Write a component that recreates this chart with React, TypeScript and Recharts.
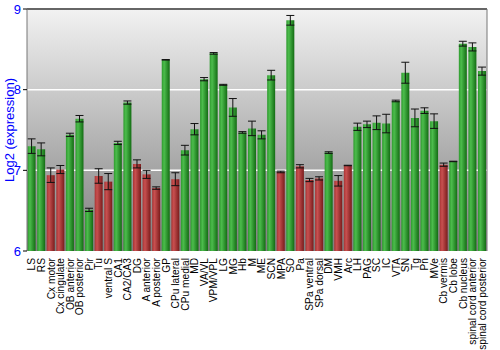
// @ts-nocheck
import { BarChart, Bar, XAxis, YAxis, ErrorBar, Cell, ReferenceLine, ReferenceArea } from 'recharts';

const regions = [
  'LS', 'RS', 'Cx motor', 'Cx cingulate', 'OB anterior', 'OB posterior', 'Pir', 'Tu', 'ventral S', 'CA1',
  'CA2/CA3', 'DG', 'A anterior', 'A posterior', 'GP', 'CPu lateral', 'CPu medial', 'MD', 'VA/VL', 'VPM/VPL',
  'LG', 'MG', 'Hb', 'M', 'ME', 'SCN', 'MPA', 'SO', 'Pa', 'SPa ventral',
  'SPa dorsal', 'DM', 'VMH', 'Arc', 'LH', 'PAG', 'SC', 'IC', 'VTA', 'SN',
  'Tg', 'Pn', 'MVe', 'Cb vermis', 'Cb lobe', 'Cb nucleus', 'spinal cord anterior', 'spinal cord posterior',
];

const expression = [
  7.30, 7.26, 6.94, 7.01, 7.44, 7.64, 6.51, 6.93, 6.86, 7.34,
  7.84, 7.08, 6.95, 6.78, 8.37, 6.89, 7.25, 7.51, 8.13, 8.45,
  8.06, 7.78, 7.47, 7.52, 7.44, 8.18, 6.98, 8.86, 7.05, 6.88,
  6.90, 7.22, 6.87, 7.06, 7.54, 7.57, 7.59, 7.58, 7.86, 8.21,
  7.65, 7.74, 7.61, 7.07, 7.11, 8.57, 8.53, 8.23,
];

const stdErr = [
  0.09, 0.08, 0.09, 0.05, 0.02, 0.04, 0.02, 0.09, 0.10, 0.02,
  0.02, 0.05, 0.05, 0.015, 0.003, 0.08, 0.06, 0.07, 0.02, 0.01,
  0.006, 0.11, 0.01, 0.09, 0.05, 0.06, 0.01, 0.06, 0.02, 0.02,
  0.02, 0.01, 0.065, 0.003, 0.045, 0.04, 0.085, 0.115, 0.01, 0.13,
  0.11, 0.035, 0.09, 0.02, 0.003, 0.03, 0.05, 0.05,
];

// true = red bar
const lowFlag = [
  false, false, true, true, false, false, false, true, true, false,
  false, true, true, true, false, true, false, false, false, false,
  false, false, false, false, false, false, true, false, true, true,
  true, false, true, true, false, false, false, false, false, false,
  false, false, false, true, false, false, false, false,
];

const yTicks = [6, 7, 8, 9];
const gridValues = [7, 8];
const gridHalf = 0.009; // half thickness of the white grid bands, in log2 units

const data = regions.map((name, i) => ({ name, value: expression[i], err: stdErr[i], low: lowFlag[i] }));

const RegionTick = ({ x, y, payload }) => (
  <text
    x={x}
    y={y}
    transform={`rotate(-90, ${x}, ${y})`}
    textAnchor="end"
    dy="0.35em"
    fontSize={10.2}
    fill="#000"
    fontFamily="Liberation Sans, Arial, sans-serif"
  >
    {payload.value}
  </text>
);

const blueTick = { fontSize: 13, fill: '#0000ff', fontFamily: 'Liberation Sans, Arial, sans-serif' };

export default function App() {
  return (
    <div style={{ width: 500, height: 350 }}>
      <style>{'body{margin:0}'}</style>
      <BarChart
        width={500}
        height={350}
        data={data}
        margin={{ top: 9, right: 0, left: 0, bottom: 0 }}
        barCategoryGap="6%"
      >
        <defs>
          <linearGradient id="bgGrad" x1="0" y1="0" x2="0" y2="1">
            <stop offset="0%" stopColor="#f2f2f2" />
            <stop offset="100%" stopColor="#7e7e7e" />
          </linearGradient>
          <linearGradient id="greenGrad" x1="0" y1="0" x2="1" y2="0">
            <stop offset="0%" stopColor="#2e9a2e" />
            <stop offset="30%" stopColor="#4cbc4c" />
            <stop offset="100%" stopColor="#136c13" />
          </linearGradient>
          <linearGradient id="redGrad" x1="0" y1="0" x2="1" y2="0">
            <stop offset="0%" stopColor="#a83434" />
            <stop offset="30%" stopColor="#c85050" />
            <stop offset="100%" stopColor="#7a1c1c" />
          </linearGradient>
        </defs>
        <ReferenceArea yAxisId="left" y1={6} y2={9} fill="url(#bgGrad)" fillOpacity={1} stroke="none" />
        {gridValues.map((v) => (
          <ReferenceArea
            key={v}
            yAxisId="left"
            y1={v - gridHalf}
            y2={v + gridHalf}
            fill="#ffffff"
            fillOpacity={1}
            stroke="none"
          />
        ))}
        <XAxis
          dataKey="name"
          interval={0}
          height={99}
          tick={<RegionTick />}
          tickLine={false}
          axisLine={false}
          tickMargin={1}
        />
        <YAxis
          yAxisId="left"
          domain={[6, 9]}
          ticks={yTicks}
          width={27}
          tick={blueTick}
          tickSize={4}
          tickMargin={2}
          tickLine={{ stroke: '#000' }}
          axisLine={{ stroke: '#777' }}
          label={{
            value: 'Log2 (expression)',
            angle: -90,
            position: 'center',
            dx: -4,
            style: { fontSize: 13, fill: '#0000ff', fontFamily: 'Liberation Sans, Arial, sans-serif' },
          }}
        />
        <YAxis
          yAxisId="right"
          orientation="right"
          domain={[6, 9]}
          ticks={yTicks}
          width={13}
          tick={blueTick}
          tickSize={3}
          tickMargin={1}
          tickLine={{ stroke: '#000' }}
          axisLine={{ stroke: '#777' }}
        />
        <ReferenceLine yAxisId="left" y={9} stroke="#666" strokeWidth={2} />
        <Bar yAxisId="left" dataKey="value" isAnimationActive={false}>
          {data.map((d) => (
            <Cell key={d.name} fill={d.low ? 'url(#redGrad)' : 'url(#greenGrad)'} />
          ))}
          <ErrorBar dataKey="err" width={4} stroke="#111" strokeWidth={1} isAnimationActive={false} />
        </Bar>
      </BarChart>
    </div>
  );
}
